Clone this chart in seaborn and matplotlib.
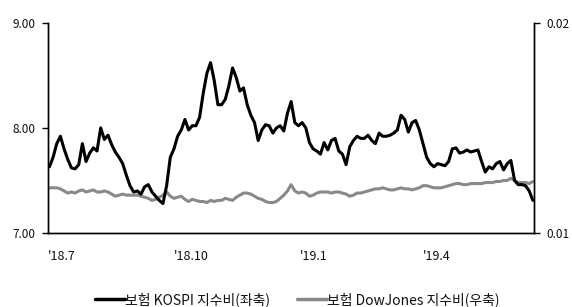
#!/usr/bin/env python3

import matplotlib
matplotlib.use("Agg")

import matplotlib.dates as mdates
import matplotlib.pyplot as plt
import pandas as pd
import seaborn as sns
from matplotlib.lines import Line2D

sns.set_style("white")
plt.rcParams["font.family"] = ["Noto Sans CJK KR", "DejaVu Sans"]

# series, roughly every 2.7 days
start_date = "2018-07-02"
end_date = "2019-06-20"

kospi_ratio = [
    7.63, 7.72, 7.85, 7.92, 7.80, 7.70, 7.62, 7.61, 7.65, 7.85,
    7.68, 7.76, 7.81, 7.78, 8.00, 7.89, 7.93, 7.84, 7.77, 7.72,
    7.66, 7.55, 7.45, 7.39, 7.40, 7.37, 7.44, 7.46, 7.39, 7.35,
    7.31, 7.28, 7.45, 7.72, 7.80, 7.92, 7.98, 8.08, 7.98, 8.02,
    8.02, 8.10, 8.33, 8.52, 8.62, 8.45, 8.22, 8.22, 8.27, 8.40,
    8.57, 8.48, 8.35, 8.38, 8.22, 8.12, 8.05, 7.88, 7.98, 8.03,
    8.02, 7.95, 8.00, 8.02, 7.97, 8.14, 8.25, 8.05, 8.02, 8.05,
    8.00, 7.86, 7.80, 7.78, 7.75, 7.86, 7.79, 7.88, 7.90, 7.78,
    7.75, 7.65, 7.82, 7.88, 7.92, 7.90, 7.90, 7.93, 7.88, 7.85,
    7.95, 7.92, 7.92, 7.93, 7.95, 7.98, 8.12, 8.08, 7.96, 8.05,
    8.07, 7.98, 7.85, 7.72, 7.66, 7.63, 7.66, 7.65, 7.64, 7.68,
    7.80, 7.81, 7.76, 7.77, 7.79, 7.77, 7.78, 7.79, 7.68, 7.58,
    7.63, 7.61, 7.66, 7.68, 7.60, 7.66, 7.69, 7.50, 7.46, 7.46,
    7.45, 7.40, 7.31,
]

dowjones_ratio = [
    0.01215, 0.01215, 0.01215, 0.01210, 0.01200, 0.01190, 0.01195, 0.01190, 0.01200, 0.01205,
    0.01195, 0.01200, 0.01205, 0.01195, 0.01195, 0.01200, 0.01195, 0.01185, 0.01175, 0.01180,
    0.01185, 0.01180, 0.01180, 0.01180, 0.01180, 0.01175, 0.01170, 0.01165, 0.01155, 0.01160,
    0.01170, 0.01180, 0.01195, 0.01175, 0.01165, 0.01170, 0.01175, 0.01160, 0.01150, 0.01160,
    0.01155, 0.01150, 0.01150, 0.01145, 0.01155, 0.01150, 0.01155, 0.01155, 0.01165, 0.01160,
    0.01155, 0.01170, 0.01180, 0.01190, 0.01190, 0.01185, 0.01175, 0.01165, 0.01160, 0.01150,
    0.01145, 0.01145, 0.01150, 0.01165, 0.01180, 0.01200, 0.01230, 0.01200, 0.01190, 0.01195,
    0.01190, 0.01175, 0.01180, 0.01190, 0.01195, 0.01195, 0.01195, 0.01190, 0.01195, 0.01195,
    0.01190, 0.01185, 0.01175, 0.01180, 0.01190, 0.01190, 0.01195, 0.01200, 0.01205, 0.01210,
    0.01210, 0.01215, 0.01210, 0.01205, 0.01205, 0.01210, 0.01215, 0.01210, 0.01210, 0.01205,
    0.01210, 0.01215, 0.01225, 0.01225, 0.01220, 0.01215, 0.01215, 0.01215, 0.01220, 0.01225,
    0.01230, 0.01235, 0.01235, 0.01230, 0.01230, 0.01235, 0.01235, 0.01235, 0.01235, 0.01240,
    0.01240, 0.01240, 0.01245, 0.01245, 0.01250, 0.01250, 0.01260, 0.01250, 0.01240, 0.01240,
    0.01240, 0.01235, 0.01245,
]

tick_dates = ["2018-07-01", "2018-10-01", "2019-01-01", "2019-04-01"]
tick_labels = ["'18.7", "'18.10", "'19.1", "'19.4"]

labels = ["보험 KOSPI 지수비(좌축)", "보험 DowJones 지수비(우축)"]
colors = ["#000000", "#898989"]

df = pd.DataFrame(
    {
        "date": pd.date_range(start_date, end_date, periods=len(kospi_ratio)),
        "kospi": kospi_ratio,
        "dow": dowjones_ratio,
    }
)

fig = plt.figure(figsize=(5.72, 3.07), dpi=100)
ax = fig.add_axes([0.084, 0.241, 0.85, 0.685])
ax2 = ax.twinx()

sns.lineplot(data=df, x="date", y="kospi", ax=ax, color=colors[0], linewidth=2.2, zorder=3)
sns.lineplot(data=df, x="date", y="dow", ax=ax2, color=colors[1], linewidth=2.2, zorder=2)
ax.set_zorder(ax2.get_zorder() + 1)
ax.patch.set_visible(False)

ax.set_ylim(7, 9)
ax.set_yticks([7, 8, 9])
ax.set_yticklabels(["7.00", "8.00", "9.00"])
ax2.set_ylim(0.01, 0.02)
ax2.set_yticks([0.01, 0.02])
ax2.set_yticklabels(["0.01", "0.02"])

ax.set_xlim(pd.Timestamp("2018-07-01"), pd.Timestamp("2019-06-21"))
ax.set_xticks(pd.to_datetime(tick_dates))
ax.set_xticklabels(tick_labels, ha="left")
ax.xaxis.set_minor_locator(mdates.MonthLocator(bymonth=[]))

for a in (ax, ax2):
    a.set_xlabel("")
    a.set_ylabel("")
    for side in ("left", "right", "bottom"):
        a.spines[side].set_visible(True)
        a.spines[side].set_color("black")
        a.spines[side].set_linewidth(1.0)
    a.spines["top"].set_visible(False)
    a.grid(False)

ax.tick_params(axis="y", direction="out", length=4, width=1, pad=5, labelsize=8.5,
               color="black", labelcolor="#111111")
ax.tick_params(axis="x", length=0, pad=12, labelsize=9, labelcolor="#111111")
ax2.tick_params(axis="y", direction="out", length=4, width=1, pad=5, labelsize=8.5,
                color="black", labelcolor="#111111")

handles = [Line2D([0], [0], color=c, linewidth=2.5) for c in colors]
fig.legend(
    handles,
    labels,
    loc="center",
    bbox_to_anchor=(0.52, 0.025),
    ncol=2,
    frameon=False,
    fontsize=10,
    handlelength=2.15,
    handletextpad=0.05,
    columnspacing=1.9,
    labelcolor="#111111",
)

plt.savefig("out.png", dpi=100)
